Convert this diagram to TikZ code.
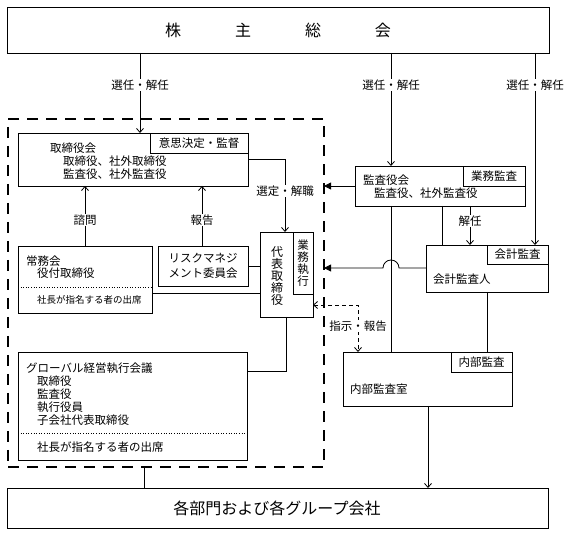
\documentclass[tikz,border=0pt]{standalone}
\usepackage{fontspec}
\setmainfont{Noto Sans CJK JP}
\usetikzlibrary{arrows.meta}
\newcommand{\myfs}[1]{\fontsize{#1}{#1}\selectfont}
\tikzset{
  box/.style={draw, line width=0.9pt, outer sep=0pt, inner sep=0pt},
  tagbox/.style={box, font=\myfs{11.5}, inner sep=1pt},
  grpbox/.style={draw, line width=2.5pt, dash pattern=on 11pt off 8pt, outer sep=0pt, inner sep=0pt},
  txt/.style={anchor=west, inner sep=0pt, font=\myfs{11.5}},
  lbl/.style={fill=white, inner sep=1pt, font=\myfs{11.5}},
  ln/.style={line width=0.8pt},
  dots/.style={line width=0.6pt, dotted},
  arr/.style={ln, -{Straight Barb[length=4pt,width=7pt]}},
  tri/.style={ln, -{Triangle[length=7pt,width=7pt]}},
  darr/.style={ln, dash pattern=on 4pt off 3pt, {Straight Barb[length=4pt,width=7pt]}-{Straight Barb[length=4pt,width=7pt]}},
}
\begin{document}
\begin{tikzpicture}[x=1pt,y=-1pt]
\useasboundingbox (0,0) rectangle (571,534);
% shareholders
\node[box, minimum width=542pt, minimum height=46pt, anchor=north west] (top) at (7,7) {};
\node[font=\myfs{16}] (toptxt) at (278,30) {株\hspace{54pt}主\hspace{54pt}総\hspace{54pt}会};
% group frame
\node[grpbox, minimum width=316pt, minimum height=348pt, anchor=north west] (grp) at (8,119) {};
% board
\node[box, minimum width=230pt, minimum height=53pt, anchor=north west] (board) at (18,133) {};
\node[tagbox, minimum width=98pt, minimum height=20pt, anchor=north east] (boardtag) at (board.north east) {意思決定・監督};
\node[txt] (b1) at (50,148) {取締役会};
\node[txt] (b2) at (63,161) {取締役、社外取締役};
\node[txt] (b3) at (63,174) {監査役、社外監査役};
% jomukai
\node[box, minimum width=134pt, minimum height=67pt, anchor=north west] (jomu) at (18,246) {};
\node[txt] (j1) at (26,261) {常務会};
\node[txt] (j2) at (37,273) {役付取締役};
\draw[dots] (jomu.west |- 0,287) -- (jomu.east |- 0,287);
\node[txt, font=\myfs{9.5}] (j3) at (37,300) {社長が指名する者の出席};
% risk
\node[box, minimum width=90pt, minimum height=40pt, anchor=north west, align=center, font=\fontsize{11.5}{15}\selectfont] (risk) at (158,246) {リスクマネジ\\メント委員会};
% representative director
\node[box, minimum width=53pt, minimum height=85pt, anchor=north west] (daihyo) at (260,232) {};
\node[tagbox, minimum width=20pt, minimum height=62pt, anchor=north east, align=center, font=\fontsize{11.5}{12}\selectfont] (daihyotag) at (daihyo.north east) {業\\務\\執\\行};
\node[align=center, inner sep=0pt, font=\fontsize{12}{11.8}\selectfont] (dtxt) at (277,276) {代\\表\\取\\締\\役};
% global
\node[box, minimum width=229pt, minimum height=108pt, anchor=north west] (glob) at (18,352) {};
\node[txt] (g1) at (26,368) {グローバル経営執行会議};
\node[txt] (g2) at (37,381) {取締役};
\node[txt] (g3) at (37,394) {監査役};
\node[txt] (g4) at (37,407) {執行役員};
\node[txt] (g5) at (37,420) {子会社代表取締役};
\draw[dots] (glob.west |- 0,433) -- (glob.east |- 0,433);
\node[txt] (g6) at (37,447) {社長が指名する者の出席};
% kansayakukai
\node[box, minimum width=170pt, minimum height=40pt, anchor=north west] (kansa) at (355,166) {};
\node[tagbox, minimum width=62pt, minimum height=20pt, anchor=north east] (kansatag) at (kansa.north east) {業務監査};
\node[txt] (k1) at (363,180) {監査役会};
\node[txt] (k2) at (374,193) {監査役、社外監査役};
% kaikei
\node[box, minimum width=122pt, minimum height=47pt, anchor=north west] (kaikei) at (426,245) {};
\node[tagbox, minimum width=61pt, minimum height=19pt, anchor=north east] (kaikeitag) at (kaikei.north east) {会計監査};
\node[txt] (kk1) at (433,279) {会計監査人};
% naibu
\node[box, minimum width=169pt, minimum height=54pt, anchor=north west] (naibu) at (343,352) {};
\node[tagbox, minimum width=61pt, minimum height=20pt, anchor=north east] (naibutag) at (naibu.north east) {内部監査};
\node[txt] (n1) at (350,389) {内部監査室};
% bottom
\node[box, minimum width=541pt, minimum height=40pt, anchor=north west] (bot) at (7,488) {};
\node[font=\myfs{16}] (bottxt) at (277,508) {各部門および各グループ会社};
% x positions
\coordinate (xA) at (140,0);
\coordinate (xB) at (391,0);
\coordinate (xC) at (535,0);
\coordinate (xJ) at (85,0);
\coordinate (xR) at (202,0);
\coordinate (xS) at (285,0);
\coordinate (xD) at (286,0);
\coordinate (xK1) at (442,0);
\coordinate (xK2) at (470,0);
\coordinate (xK3) at (487,0);
\coordinate (xN) at (428,0);
\coordinate (xG) at (144,0);
\coordinate (xI) at (358,0);
\coordinate (hop) at (391,268);
% connectors
\draw[arr] (xA |- top.south) -- (xA |- board.north);
\node[lbl] (l1) at (140,85) {選任・解任};
\draw[arr] (xB |- top.south) -- (xB |- kansa.north);
\node[lbl] (l2) at (391,85) {選任・解任};
\draw[arr] (xC |- top.south) -- (xC |- kaikei.north);
\node[lbl] (l3) at (535,85) {選任・解任};
\draw[arr] (xJ |- jomu.north) -- (xJ |- board.south);
\node[lbl] (l4) at (85,220) {諮問};
\draw[arr] (xR |- risk.north) -- (xR |- board.south);
\node[lbl] (l5) at (202,220) {報告};
\draw[arr] (board.east) -| (xS |- daihyo.north);
\node[lbl] (l6) at (285,191) {選定・解職};
\draw[ln] (risk.east) -- (daihyo.west |- risk.east);
\draw[ln] (jomu.east |- 0,293) -- (daihyo.west |- 0,293);
\draw[ln] (xD |- daihyo.south) |- (glob.east |- 0,371);
\draw[tri] (kansa.west |- 0,186) -- (grp.east |- 0,186);
\draw[tri] (kaikei.west |- 0,268) -- ([xshift=8pt]hop) arc[start angle=0, end angle=180, radius=8pt] -- (grp.east |- 0,268);
\draw[ln] (xB |- kansa.south) -- (xB |- naibu.north);
\draw[ln] (xK1 |- kansa.south) -- (xK1 |- kaikei.north);
\draw[arr] (xK2 |- kansa.south) -- (xK2 |- kaikei.north);
\node[lbl] (l7) at (470,221) {解任};
\draw[ln] (xK3 |- kaikei.south) -- (xK3 |- naibu.north);
\draw[arr] (xN |- naibu.south) -- (xN |- bot.north);
\draw[ln] (xG |- grp.south) -- (xG |- bot.north);
\draw[darr] (daihyo.east |- 0,305) -| (xI |- naibu.north);
\node[lbl] (l8) at (358,326) {指示・報告};
\end{tikzpicture}
\end{document}
